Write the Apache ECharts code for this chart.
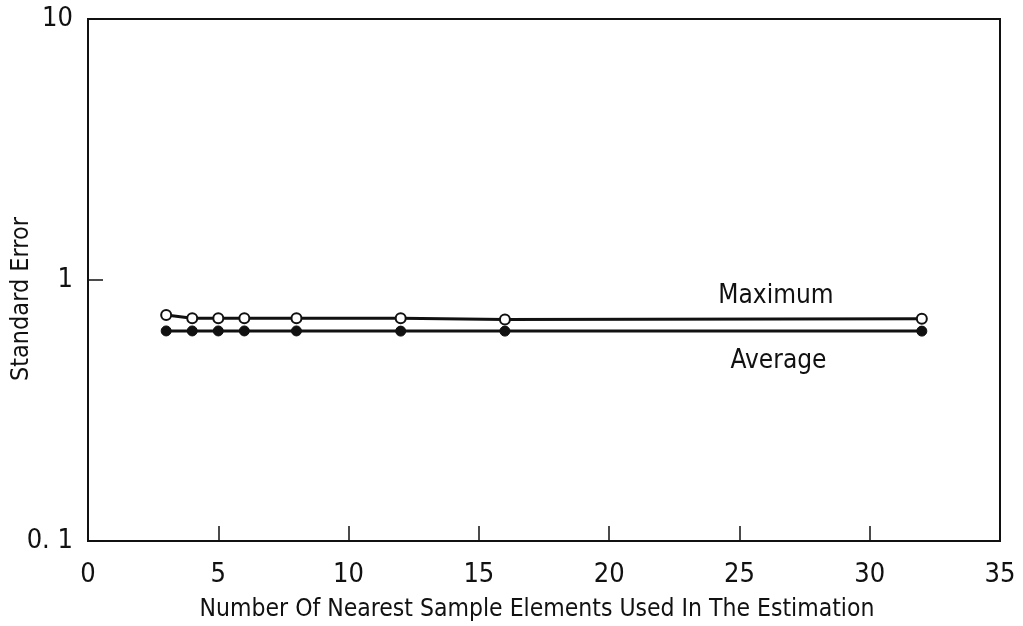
<!DOCTYPE html>
<html>
<head>
<meta charset="utf-8">
<script src="https://cdn.jsdelivr.net/npm/echarts@6/dist/echarts.min.js"></script>
<style>
  html, body { margin: 0; padding: 0; background: #fff; }
  #chart { width: 1023px; height: 626px; }
</style>
</head>
<body>
<div id="chart"></div>
<script>
// Number of nearest sample elements used in the estimation
const neighbours = [3, 4, 5, 6, 8, 12, 16, 32];
// Standard error, maximum over the test set
const maximumError = [0.734, 0.714, 0.714, 0.713, 0.713, 0.713, 0.706, 0.710];
// Standard error, averaged over the test set
const averageError = [0.638, 0.638, 0.638, 0.638, 0.638, 0.637, 0.637, 0.637];

const FONT = '"DejaVu Sans Condensed", "Liberation Sans Narrow", sans-serif';
const INK = '#111';

const chart = echarts.init(document.getElementById('chart'));
chart.setOption({
  animation: false,
  backgroundColor: '#fff',
  grid: {
    left: 88, right: 23, top: 19, bottom: 85,
    containLabel: false, outerBoundsMode: 'none',
    show: true, borderColor: INK, borderWidth: 2
  },
  xAxis: {
    type: 'value', min: 0, max: 35, interval: 5,
    name: 'Number Of Nearest Sample Elements Used In The Estimation',
    nameLocation: 'middle', nameGap: 56, nameMoveOverlap: false,
    nameTextStyle: { fontFamily: FONT, fontSize: 24.5, color: INK, padding: [0, 14, 0, 0] },
    axisLine: { lineStyle: { color: INK, width: 2 } },
    axisTick: { inside: true, length: 15, lineStyle: { color: INK, width: 1.5 } },
    axisLabel: { fontFamily: FONT, fontSize: 27, color: INK, margin: 20 },
    splitLine: { show: false }
  },
  yAxis: {
    type: 'log', min: 0.1, max: 10, logBase: 10,
    name: 'Standard Error',
    nameLocation: 'middle', nameGap: 54, nameMoveOverlap: false,
    nameTextStyle: { fontFamily: FONT, fontSize: 25, color: INK, padding: [0, 38, 0, 0] },
    axisLine: { lineStyle: { color: INK, width: 2 } },
    axisTick: { inside: true, length: 15, lineStyle: { color: INK, width: 1.5 } },
    axisLabel: {
      fontFamily: FONT, fontSize: 27, color: INK, margin: 15,
      formatter: v => (v < 1 ? '0. 1' : String(Math.round(v)))
    },
    splitLine: { show: false }
  },
  series: [
    {
      name: 'Maximum', type: 'line',
      data: neighbours.map((x, i) => [x, maximumError[i]]),
      symbol: 'circle', symbolSize: 10,
      itemStyle: { color: '#fff', borderColor: INK, borderWidth: 2 },
      lineStyle: { color: INK, width: 3 },
      markPoint: {
        symbol: 'circle', symbolSize: 0,
        data: [{ coord: [26.4, 0.865], value: 'Maximum' }],
        label: { show: true, position: 'inside', formatter: 'Maximum',
                 fontFamily: FONT, fontSize: 26, color: INK }
      }
    },
    {
      name: 'Average', type: 'line',
      data: neighbours.map((x, i) => [x, averageError[i]]),
      symbol: 'circle', symbolSize: 10,
      itemStyle: { color: INK, borderColor: INK, borderWidth: 1 },
      lineStyle: { color: INK, width: 3 },
      markPoint: {
        symbol: 'circle', symbolSize: 0,
        data: [{ coord: [26.5, 0.49], value: 'Average' }],
        label: { show: true, position: 'inside', formatter: 'Average',
                 fontFamily: FONT, fontSize: 26, color: INK }
      }
    }
  ]
});
</script>
</body>
</html>
